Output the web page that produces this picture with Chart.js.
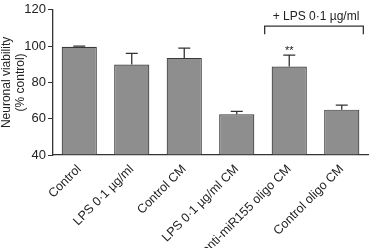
<!DOCTYPE html>
<html><head><meta charset="utf-8">
<script src="https://cdn.jsdelivr.net/npm/chart.js@4"></script>
<style>html,body{margin:0;padding:0;background:#fff}#w{width:370px;height:248px}</style>
</head><body><div id="w"><canvas id="c"></canvas></div>
<script>
const categories = ["Control", "LPS 0·1 µg/ml", "Control CM", "LPS 0·1 µg/ml CM", "anti-miR155 oligo CM", "Control oligo CM"];
const viability = [99.6, 89.9, 93.5, 62.4, 88.7, 65.0];
const errorUpper = [100.0, 96.0, 98.9, 64.0, 95.0, 67.5];
const yTicks = [40, 60, 80, 100, 120];
const significance = ["", "", "", "", "**", ""];
const bracketLabel = "+ LPS 0·1 µg/ml";
const bracketFrom = 4, bracketTo = 5;

const font = "Liberation Sans, Arial, sans-serif";

const overlay = {
  id: 'overlay',
  afterDatasetsDraw(chart) {
    const ctx = chart.ctx, x = chart.scales.x, y = chart.scales.y;
    const meta = chart.getDatasetMeta(0);
    ctx.save();
    ctx.strokeStyle = '#333'; ctx.lineWidth = 1.3;
    meta.data.forEach((bar, i) => {
      const cx = bar.x, yt = y.getPixelForValue(viability[i]), ye = y.getPixelForValue(errorUpper[i]);
      ctx.beginPath();
      ctx.moveTo(cx, yt); ctx.lineTo(cx, ye);
      ctx.moveTo(cx - 6, ye); ctx.lineTo(cx + 6, ye);
      ctx.stroke();
      if (significance[i]) {
        ctx.fillStyle = '#222'; ctx.font = '11px ' + font; ctx.textAlign = 'center';
        ctx.fillText(significance[i], cx, ye - 1);
      }
    });
    const b1 = meta.data[bracketFrom], b2 = meta.data[bracketTo];
    const lx = b1.x - b1.width / 2 - 7, rx = b2.x + b2.width / 2 + 4;
    const by = y.getPixelForValue(111);
    ctx.beginPath();
    ctx.moveTo(lx, by + 8); ctx.lineTo(lx, by); ctx.lineTo(rx, by); ctx.lineTo(rx, by + 8);
    ctx.stroke();
    ctx.fillStyle = '#222'; ctx.font = '12px ' + font; ctx.textAlign = 'center'; ctx.textBaseline = 'bottom';
    ctx.fillText(bracketLabel, (lx + rx) / 2 + 2, by - 3);
    ctx.restore();
  }
};

new Chart(document.getElementById('c'), {
  type: 'bar',
  data: { labels: categories, datasets: [{ data: viability, backgroundColor: '#8e8e8e', borderColor: '#3a3a3a', borderWidth: 1.2, categoryPercentage: 1, barPercentage: 0.67, base: 40 }] },
  plugins: [overlay],
  options: {
    responsive: true, maintainAspectRatio: false, animation: false,
    layout: { padding: { top: 6, right: 2, left: 0, bottom: 0 } },
    plugins: { legend: { display: false }, tooltip: { enabled: false } },
    scales: {
      x: {
        grid: { display: false, drawOnChartArea: false, drawTicks: true, tickLength: 4, color: '#333' },
        border: { color: '#333', width: 1.3 },
        ticks: { color: '#222', font: { family: font, size: 12.5 }, maxRotation: 45, minRotation: 45, padding: 3 },
        afterFit(s) { s.height = 93; }
      },
      y: {
        min: 40, max: 120,
        afterBuildTicks(s) { s.ticks = yTicks.map(v => ({ value: v })); },
        grid: { drawOnChartArea: false, drawTicks: true, tickLength: 5, color: '#333' },
        border: { color: '#333', width: 1.3 },
        ticks: { color: '#222', font: { family: font, size: 13 }, padding: 2 },
        title: { display: true, text: ['Neuronal viability', '(% control)'], color: '#222', font: { family: font, size: 12, lineHeight: 1.15 }, padding: 0 },
        afterFit(s) { s.width = 53; }
      }
    }
  }
});
</script></body></html>
